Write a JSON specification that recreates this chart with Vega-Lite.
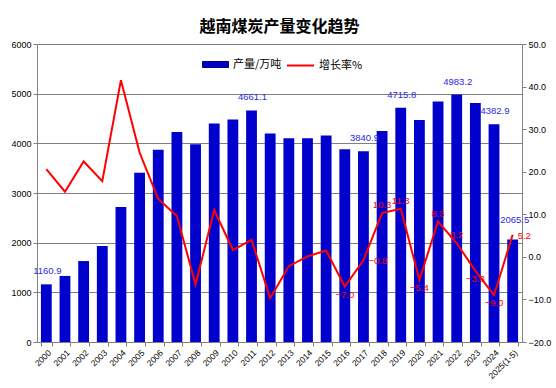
{
  "$schema": "https://vega.github.io/schema/vega-lite/v6.json",
  "width": 485,
  "height": 298,
  "autosize": {"type": "none"},
  "padding": {"left": 37, "top": 44, "right": 34, "bottom": 46},
  "background": "white",
  "title": {"text": "越南煤炭产量变化趋势", "font": "Noto Sans CJK SC", "fontSize": 16, "fontWeight": "bold", "color": "#000000", "anchor": "middle", "frame": "group", "offset": 10, "dy": 5},
  "config": {
    "view": {"stroke": null},
    "axis": {"labelFont": "Liberation Sans", "labelFontSize": 9, "labelColor": "#000000", "domainColor": "#808080", "tickColor": "#808080", "gridColor": "#808080", "gridOpacity": 1, "tickSize": 4, "labelPadding": 2},
    "legend": {"padding": 0, "labelFont": "Noto Sans CJK SC", "labelFontSize": 11, "labelColor": "#000000", "labelOffset": 4}
  },
  "data": {"values": [
    {"year": "2000", "prod": 1160.9, "rate": 20.6},
    {"year": "2001", "prod": 1330, "rate": 15.3},
    {"year": "2002", "prod": 1630, "rate": 22.4},
    {"year": "2003", "prod": 1935, "rate": 17.8},
    {"year": "2004", "prod": 2720, "rate": 41.5},
    {"year": "2005", "prod": 3410, "rate": 24.5},
    {"year": "2006", "prod": 3870, "rate": 13.6},
    {"year": "2007", "prod": 4230, "rate": 9.6},
    {"year": "2008", "prod": 3980, "rate": -6.5},
    {"year": "2009", "prod": 4400, "rate": 11.0},
    {"year": "2010", "prod": 4480, "rate": 1.6},
    {"year": "2011", "prod": 4661.1, "rate": 4.0},
    {"year": "2012", "prod": 4200, "rate": -9.7},
    {"year": "2013", "prod": 4100, "rate": -2.2},
    {"year": "2014", "prod": 4100, "rate": 0.1},
    {"year": "2015", "prod": 4160, "rate": 1.5},
    {"year": "2016", "prod": 3880, "rate": -7.0},
    {"year": "2017", "prod": 3840.9, "rate": -0.8},
    {"year": "2018", "prod": 4250, "rate": 10.3},
    {"year": "2019", "prod": 4715.8, "rate": 11.3},
    {"year": "2020", "prod": 4470, "rate": -5.4},
    {"year": "2021", "prod": 4840, "rate": 8.3},
    {"year": "2022", "prod": 4983.2, "rate": 3.2},
    {"year": "2023", "prod": 4810, "rate": -3.3},
    {"year": "2024", "prod": 4382.9, "rate": -9.0},
    {"year": "2025(1-5)", "prod": 2065.5, "rate": 5.2}
  ]},
  "encoding": {
    "x": {"field": "year", "type": "ordinal", "sort": null, "title": null,
      "scale": {"paddingInner": 0.42, "paddingOuter": 0.21},
      "axis": {"labelAngle": -45, "tickBand": "extent", "grid": false, "labelFontSize": 8.5}}
  },
  "layer": [
    {"layer": [
      {"mark": {"type": "bar"},
        "encoding": {
          "y": {"field": "prod", "type": "quantitative", "title": null, "scale": {"domain": [0, 6000], "nice": false},
            "axis": {"values": [0, 1000, 2000, 3000, 4000, 5000, 6000], "format": "d", "grid": true, "orient": "left"}},
          "color": {"datum": "产量/万吨", "type": "nominal", "scale": {"range": ["#0000CC"]},
            "legend": {"orient": "none", "legendX": 165, "legendY": 7, "title": null, "symbolType": "M-1,-0.23H1V0.23H-1Z", "symbolSize": 676, "symbolStrokeColor": "#000080", "symbolStrokeWidth": 1}}
        }},
      {"transform": [{"filter": {"field": "year", "oneOf": ["2000", "2011", "2017", "2019", "2022", "2024"]}}],
        "mark": {"type": "text", "font": "Liberation Sans", "fontSize": 9.5, "color": "#2A2AE0", "baseline": "bottom", "dy": -8, "dx": 1},
        "encoding": {
          "y": {"field": "prod", "type": "quantitative"},
          "text": {"field": "prod", "type": "quantitative", "format": ".1f"}
        }},
      {"transform": [{"filter": {"field": "year", "oneOf": ["2025(1-5)"]}}],
        "mark": {"type": "text", "font": "Liberation Sans", "fontSize": 9.5, "color": "#2A2AE0", "baseline": "bottom", "dy": -14, "dx": 2},
        "encoding": {
          "y": {"field": "prod", "type": "quantitative"},
          "text": {"field": "prod", "type": "quantitative", "format": ".1f"}
        }}
    ]},
    {"layer": [
      {"mark": {"type": "line", "strokeWidth": 2},
        "encoding": {
          "y": {"field": "rate", "type": "quantitative", "title": null, "scale": {"domain": [-20, 50], "nice": false},
            "axis": {"orient": "right", "values": [-20, -10, 0, 10, 20, 30, 40, 50], "format": ".1f", "grid": false}},
          "stroke": {"datum": "增长率%", "type": "nominal", "scale": {"range": ["#FF0000"]},
            "legend": {"orient": "none", "legendX": 249, "legendY": 7, "title": null, "symbolType": "stroke", "symbolSize": 729, "symbolStrokeWidth": 2}}
        }},
      {"transform": [{"filter": {"field": "year", "oneOf": ["2018", "2019", "2021", "2022"]}}],
        "mark": {"type": "text", "font": "Liberation Sans", "fontSize": 9.5, "color": "#FF0000", "baseline": "bottom", "dy": -3},
        "encoding": {
          "y": {"field": "rate", "type": "quantitative"},
          "text": {"field": "rate", "type": "quantitative", "format": ".1f"}
        }},
      {"transform": [{"filter": {"field": "year", "oneOf": ["2016", "2020", "2023", "2024"]}}],
        "mark": {"type": "text", "font": "Liberation Sans", "fontSize": 9.5, "color": "#FF0000", "baseline": "top", "dy": 3},
        "encoding": {
          "y": {"field": "rate", "type": "quantitative"},
          "text": {"field": "rate", "type": "quantitative", "format": ".1f"}
        }},
      {"transform": [{"filter": {"field": "year", "oneOf": ["2017", "2025(1-5)"]}}],
        "mark": {"type": "text", "font": "Liberation Sans", "fontSize": 9.5, "color": "#FF0000", "align": "left", "baseline": "middle", "dx": 5, "dy": 1},
        "encoding": {
          "y": {"field": "rate", "type": "quantitative"},
          "text": {"field": "rate", "type": "quantitative", "format": ".1f"}
        }}
    ]}
  ],
  "resolve": {"scale": {"y": "independent"}}
}
